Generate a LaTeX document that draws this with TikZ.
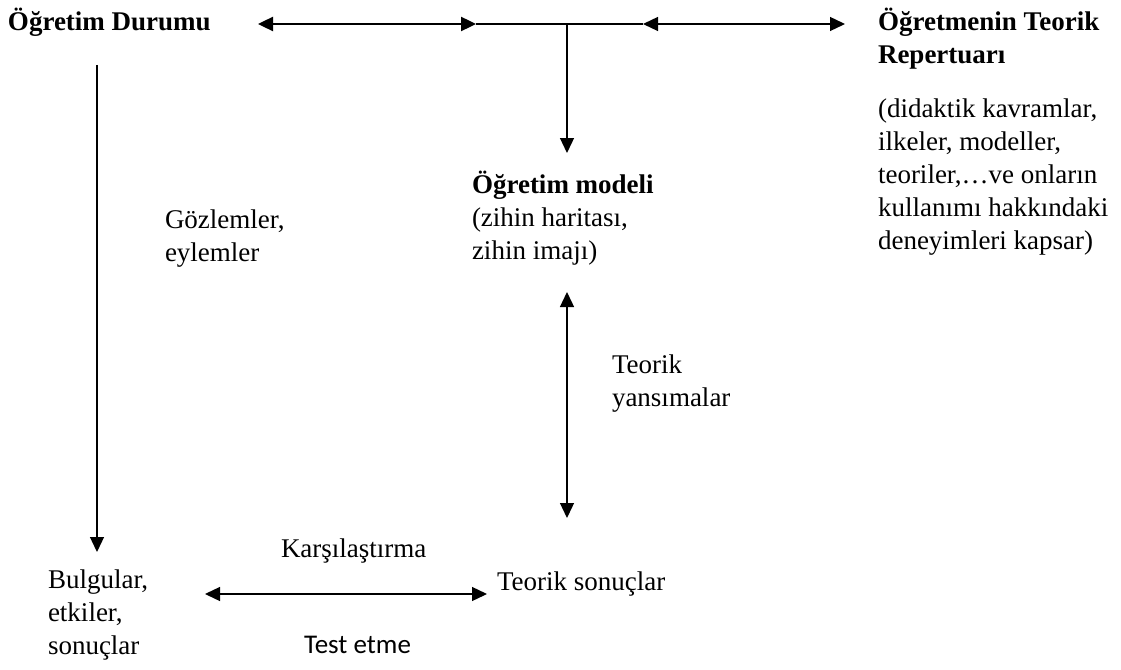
\documentclass[tikz,border=0pt]{standalone}
\usepackage{fontspec}
\setmainfont{Liberation Serif}
\newfontfamily\labelsans{Carlito}
\usetikzlibrary{arrows.meta}
\begin{document}
\begin{tikzpicture}[x=1pt,y=-1pt,
  txt/.style={anchor=north west, inner sep=0pt, outer sep=0pt, align=left,
    font=\fontsize{27}{33}\selectfont, execute at begin node=\strut},
  conn/.style={line width=1.3pt},
  thick conn/.style={line width=2.4pt},
  both/.style={{Triangle[length=15pt,width=14pt]}-{Triangle[length=15pt,width=14pt]}},
  down/.style={-{Triangle[length=15pt,width=14pt]}}]
\useasboundingbox (0,0) rectangle (1121,669);

% text blocks (node tops sit one strut height, 23.1pt, above the first baseline)
\node[txt] (durum) at (8,7.9) {\textbf{Öğretim Durumu}};
\node[txt] (repertuar) at (878,7.9) {\textbf{Öğretmenin Teorik}\\\textbf{Repertuarı}};
\node[txt] (kapsam) at (878,98.9) {(didaktik kavramlar,\\ilkeler, modeller,\\teoriler,…ve onların\\kullanımı hakkındaki\\deneyimleri kapsar)};
\node[txt] (model) at (472,170.9) {\textbf{Öğretim modeli}\\(zihin haritası,\\zihin imajı)};
\node[txt] (gozlem) at (165,209.9) {Gözlemler,\\eylemler};
\node[txt] (yansima) at (612,354.9) {Teorik\\yansımalar};
\node[txt] (karsi) at (281,533.9) {Karşılaştırma};
\node[txt] (sonuc) at (497,566.9) {Teorik sonuçlar};
\node[txt] (bulgu) at (48,569.9) {Bulgular,\\etkiler,\\sonuçlar};
\node[txt, font=\labelsans\fontsize{27}{33}\selectfont] (test) at (304,629.9) {Test etme};

% connector end points
\coordinate (tA) at (258,24);
\coordinate (tB) at (476,24);
\coordinate (tJ) at (567,24);
\coordinate (tC) at (643,24);
\coordinate (tD) at (845,24);
\coordinate (mTop) at (567,153);
\coordinate (lTop) at (97,65);
\coordinate (lBot) at (97,552);
\coordinate (vTop) at (567,292);
\coordinate (vBot) at (567,518);
\coordinate (hL) at (205,594);
\coordinate (hR) at (487,594);

% connectors
\draw[thick conn, both] (tA) -- (tB);
\draw[conn] (tB) -- (tC);
\draw[conn, both] (tC) -- (tD);
\draw[conn, down] (tJ) -- (mTop);
\draw[conn, down] (lTop) -- (lBot);
\draw[conn, both] (vTop) -- (vBot);
\draw[conn, both] (hL) -- (hR);
\end{tikzpicture}
\end{document}
